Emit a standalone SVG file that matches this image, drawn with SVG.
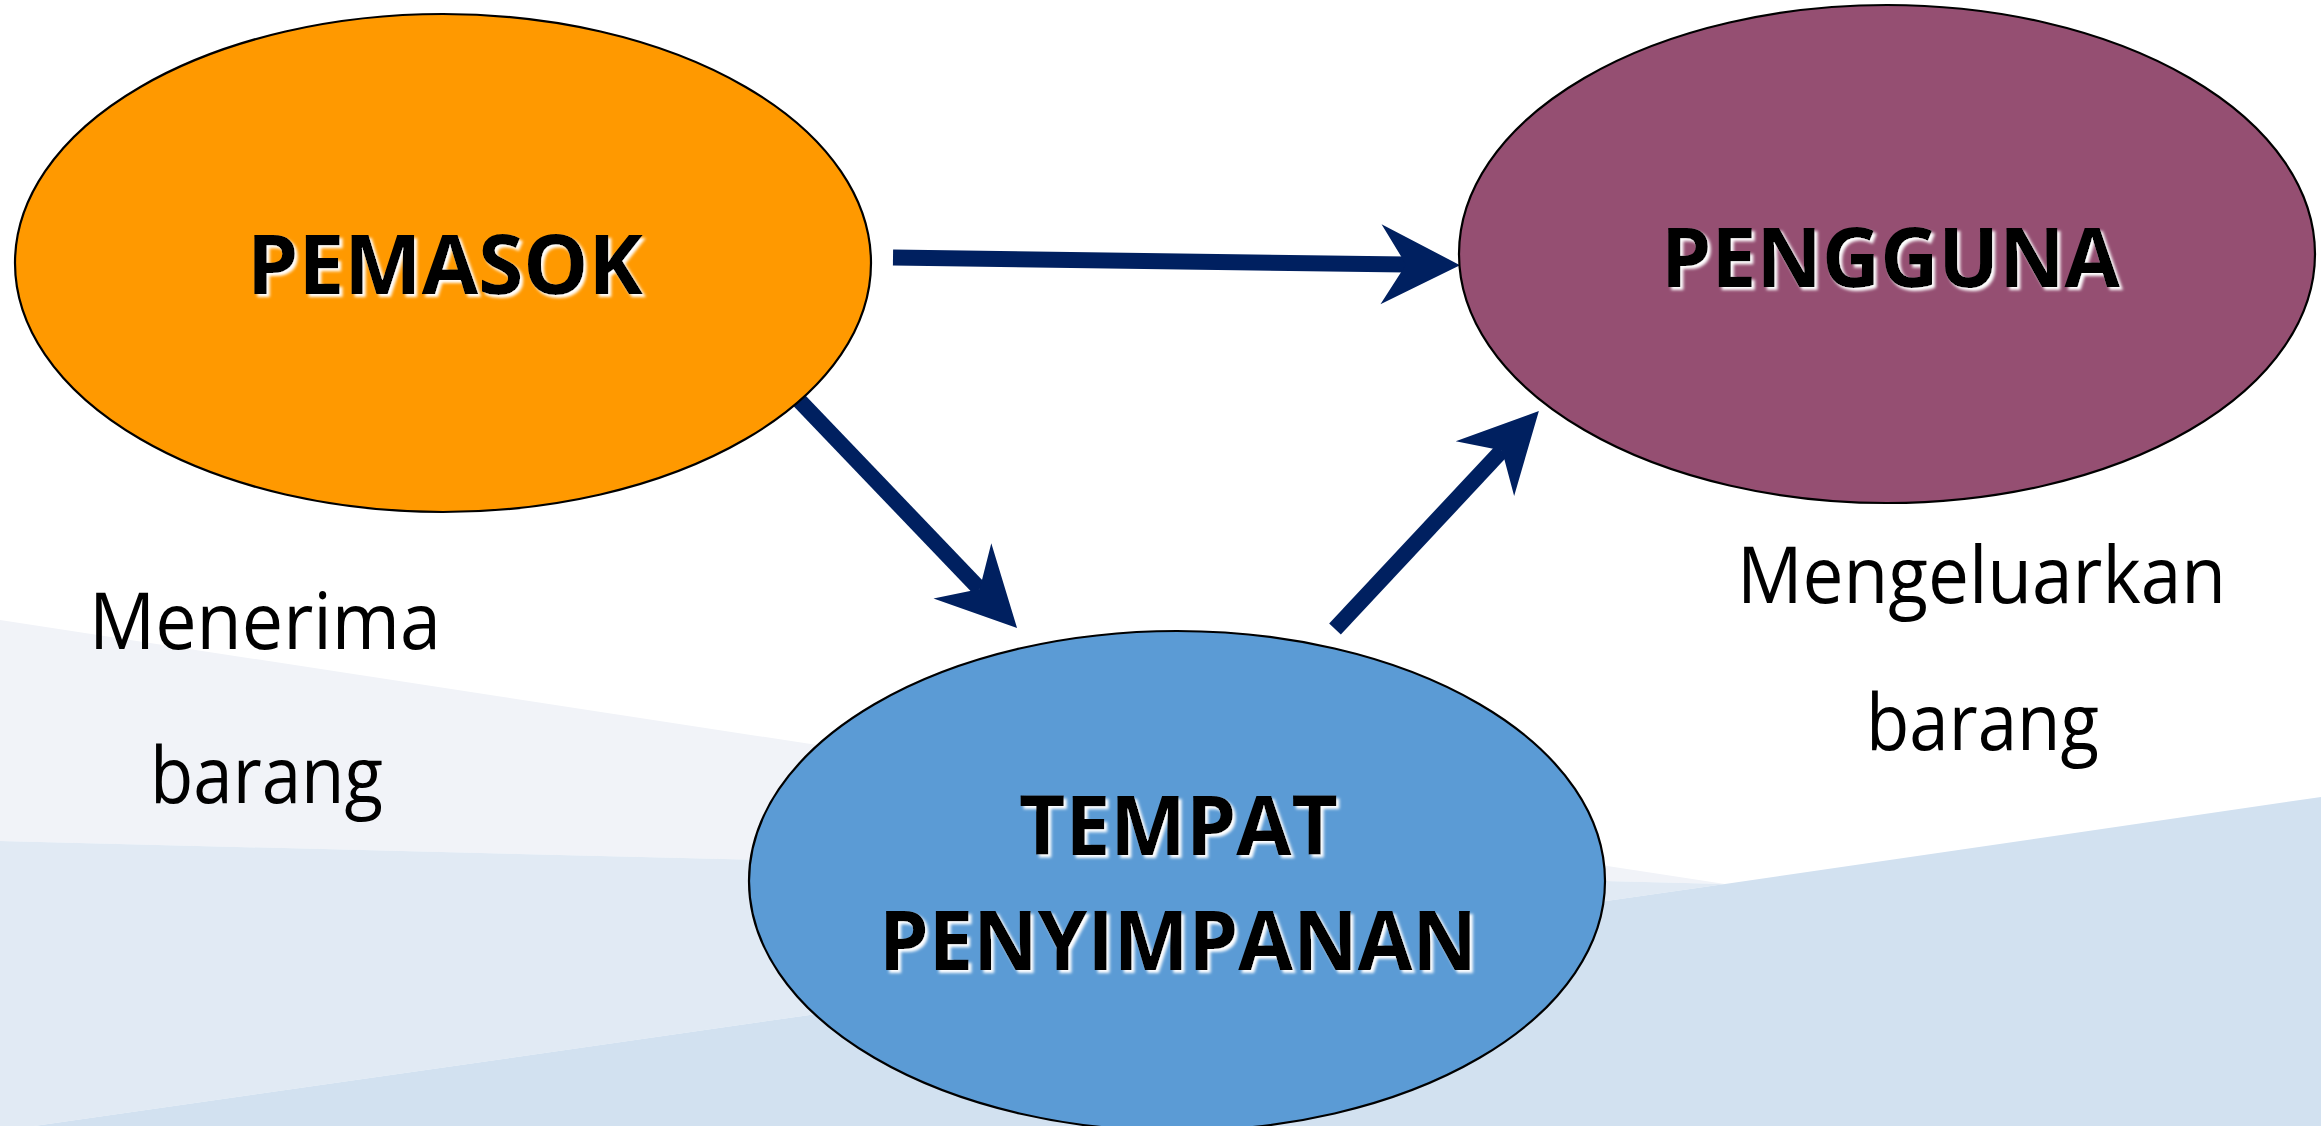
<svg xmlns="http://www.w3.org/2000/svg" width="2321" height="1126" viewBox="0 0 2321 1126">
  <style>
    .node { stroke: #000; stroke-width: 2.2; }
    .title { font-family: "Open Sans", "Noto Sans", "Liberation Sans", sans-serif; font-weight: 700; font-size: 83px; fill: #000; filter: url(#glow); }
    .note { font-family: "Open Sans", "Noto Sans", "Liberation Sans", sans-serif; font-weight: 400; font-size: 78px; fill: #000; }
    .link { stroke: #002060; stroke-width: 16; fill: none; stroke-linecap: butt; marker-end: url(#head); }
  </style>
  <defs>
    <filter id="glow" x="-10%" y="-30%" width="120%" height="160%">
      <feGaussianBlur in="SourceAlpha" stdDeviation="1.6" result="b"/>
      <feOffset in="b" dx="3" dy="3" result="o"/>
      <feFlood flood-color="#ffffff"/>
      <feComposite in2="o" operator="in" result="s"/>
      <feMerge>
        <feMergeNode in="s"/>
        <feMergeNode in="SourceGraphic"/>
      </feMerge>
    </filter>
    <!-- notched arrowhead; reference point sits at the notch -->
    <marker id="head" markerUnits="userSpaceOnUse" viewBox="-30 -45 90 90" markerWidth="90" markerHeight="90" refX="0" refY="0" orient="auto">
      <path d="M54,0 L-25,-40 L0,0 L-25,40 Z" fill="#002060"/>
    </marker>
  </defs>

  <!-- background -->
  <rect width="2321" height="1126" fill="#ffffff"/>
  <g id="background">
    <polygon points="0,620 1725,884 0,841" fill="#F1F3F8"/>
    <polygon points="0,841 1725,884 34,1126 0,1126" fill="#E1EAF4"/>
    <polygon points="1725,884 2321,797 2321,1126 34,1126" fill="#D2E1F0"/>
  </g>

  <!-- connectors -->
  <g id="connectors">
    <line class="link" x1="893" y1="257.5" x2="1406" y2="264.5"/>
    <line class="link" x1="792.5" y1="393.5" x2="979.7" y2="589"/>
    <line class="link" x1="1335" y1="629" x2="1502" y2="450.4"/>
  </g>

  <!-- nodes -->
  <g id="pemasok">
    <ellipse class="node" cx="443" cy="263" rx="428" ry="249" fill="#FF9900"/>
    <text class="title" x="247" y="294" textLength="396" lengthAdjust="spacingAndGlyphs">PEMASOK</text>
  </g>
  <g id="pengguna">
    <ellipse class="node" cx="1887" cy="254" rx="428" ry="249" fill="#954F72"/>
    <text class="title" x="1661" y="287" textLength="459" lengthAdjust="spacingAndGlyphs">PENGGUNA</text>
  </g>
  <g id="tempat-penyimpanan">
    <ellipse class="node" cx="1177" cy="881" rx="428" ry="250" fill="#5B9BD5"/>
    <text class="title" x="1019" y="855" textLength="319" lengthAdjust="spacingAndGlyphs">TEMPAT</text>
    <text class="title" x="879" y="970" textLength="598" lengthAdjust="spacingAndGlyphs">PENYIMPANAN</text>
  </g>

  <!-- side notes -->
  <g id="note-menerima">
    <text class="note" x="89" y="649" textLength="352" lengthAdjust="spacingAndGlyphs">Menerima</text>
    <text class="note" x="150" y="803" textLength="233" lengthAdjust="spacingAndGlyphs">barang</text>
  </g>
  <g id="note-mengeluarkan">
    <text class="note" x="1737" y="603" textLength="489" lengthAdjust="spacingAndGlyphs">Mengeluarkan</text>
    <text class="note" x="1866" y="750" textLength="233" lengthAdjust="spacingAndGlyphs">barang</text>
  </g>
</svg>
